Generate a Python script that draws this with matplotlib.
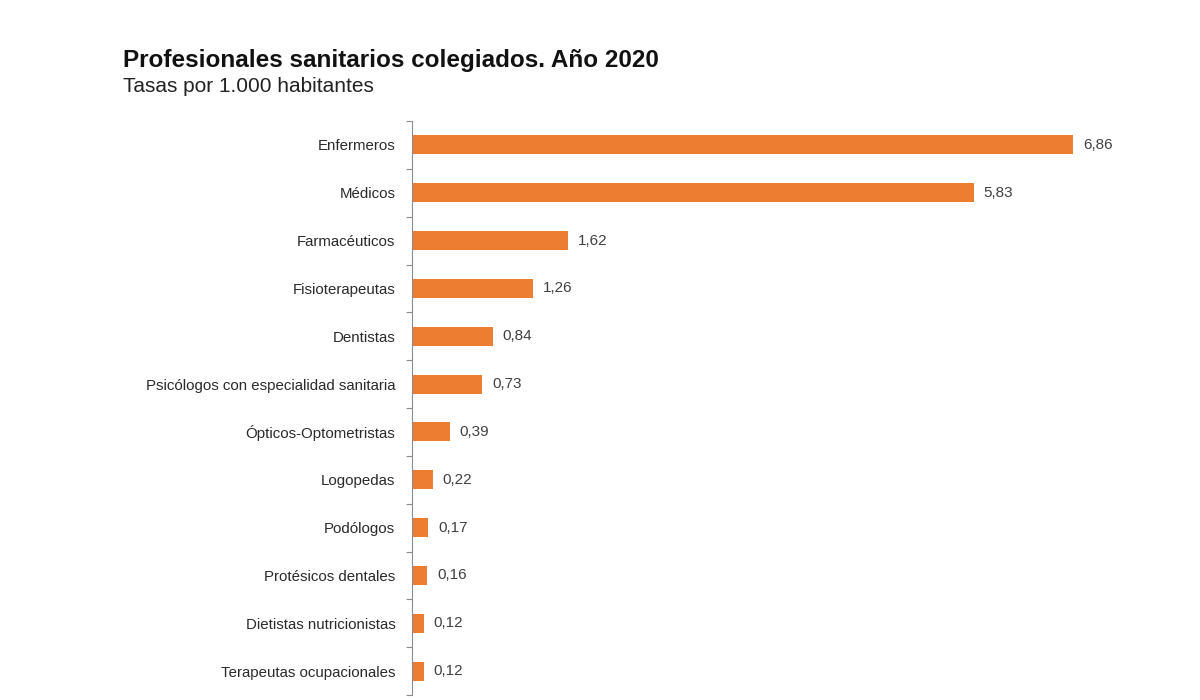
import matplotlib
matplotlib.use('Agg')
import matplotlib.pyplot as plt

plt.rcParams['font.family'] = ['Liberation Sans', 'DejaVu Sans']

categorias = ['Enfermeros', 'Médicos', 'Farmacéuticos', 'Fisioterapeutas',
              'Dentistas', 'Psicólogos con especialidad sanitaria',
              'Ópticos-Optometristas', 'Logopedas', 'Podólogos',
              'Protésicos dentales', 'Dietistas nutricionistas',
              'Terapeutas ocupacionales']
tasas = [6.86, 5.83, 1.62, 1.26, 0.84, 0.73, 0.39, 0.22, 0.17, 0.16, 0.12, 0.12]

naranja = '#ED7D31'
gris = '#8c8c8c'

fig = plt.figure(figsize=(12, 7), dpi=100)
ax = fig.add_axes([412 / 1200, 5 / 700, 723 / 1200, 574 / 700])

pos = list(range(len(categorias)))
ax.barh(pos, tasas, height=0.4, color=naranja)
ax.set_ylim(len(categorias) - 0.5, -0.5)
ax.set_xlim(0, 7.5)

for p, v in zip(pos, tasas):
    ax.text(v + 0.1, p, f'{v:.2f}'.replace('.', ','), va='center', ha='left',
            fontsize=11, color='#404040')

# ticks at category borders, labels centered
ax.set_yticks([p - 0.5 for p in pos] + [len(pos) - 0.5])
ax.set_yticklabels([])
ax.set_yticks(pos, minor=True)
ax.set_yticklabels(categorias, minor=True, fontsize=10.8, color='#2a2a2a')
ax.tick_params(axis='y', which='major', length=4, color=gris, width=0.8)
ax.tick_params(axis='y', which='minor', length=0, pad=12)

ax.set_xticks([])
for s in ['top', 'right', 'bottom']:
    ax.spines[s].set_visible(False)
ax.spines['left'].set_color(gris)
ax.spines['left'].set_linewidth(0.8)

fig.text(123 / 1200, 1 - 60 / 700, 'Profesionales sanitarios colegiados. Año 2020',
         fontsize=17.5, fontweight='bold', color='#111111', va='center', ha='left')
fig.text(123 / 1200, 1 - 87 / 700, 'Tasas por 1.000 habitantes',
         fontsize=15, color='#222222', va='center', ha='left')

fig.savefig('out.png', dpi=100)
